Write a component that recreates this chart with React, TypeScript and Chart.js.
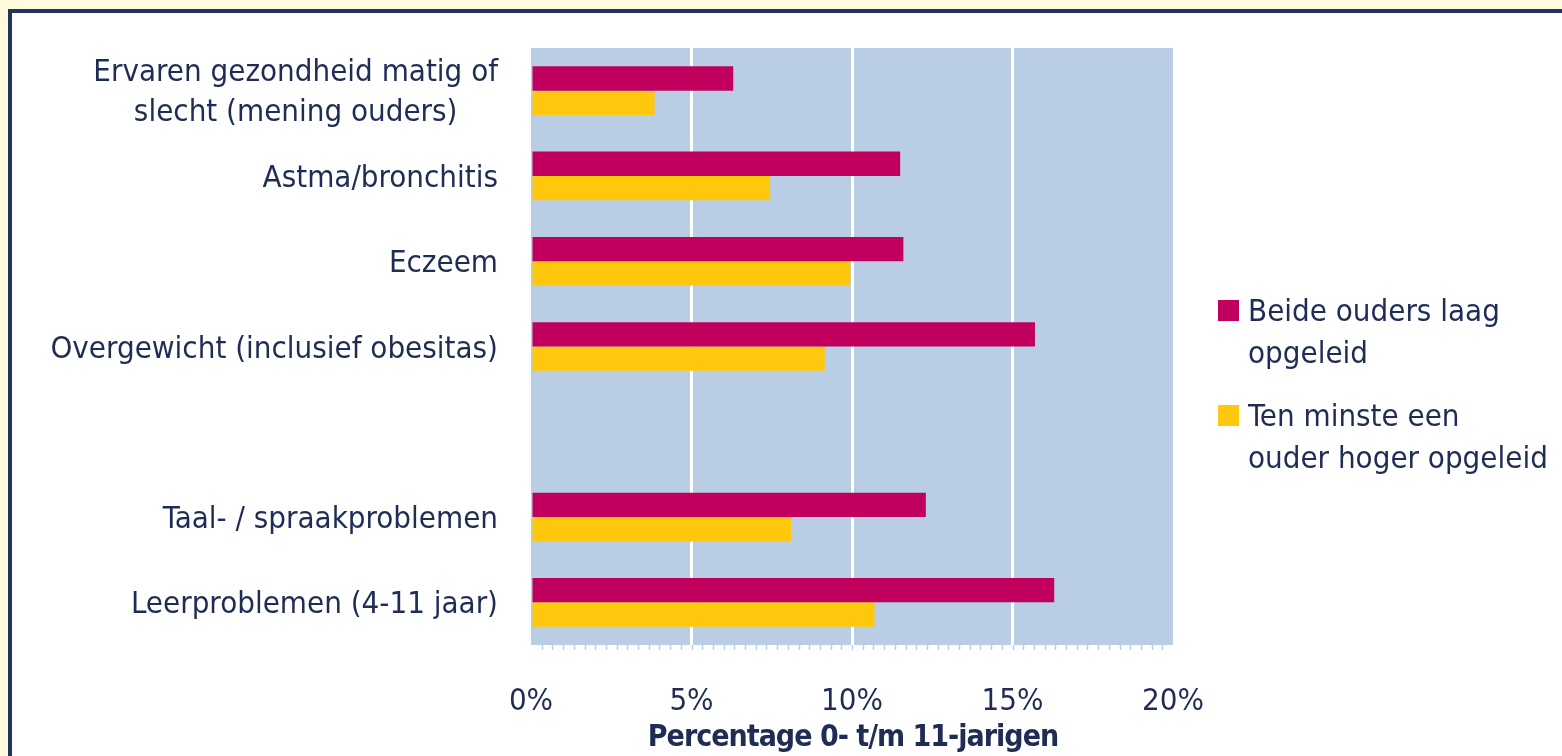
import React, { useEffect, useRef } from "react";
import { Chart, registerables } from "chart.js";

Chart.register(...registerables);

const categories: string[][] = [
  ["Ervaren gezondheid matig of", "slecht (mening ouders)"],
  ["Astma/bronchitis"],
  ["Eczeem"],
  ["Overgewicht (inclusief obesitas)"],
  [""],
  ["Taal- / spraakproblemen"],
  ["Leerproblemen (4-11 jaar)"],
];

const seriesNames: string[][] = [
  ["Beide ouders laag", "opgeleid"],
  ["Ten minste een", "ouder hoger opgeleid"],
];

const laagOpgeleid: (number | null)[] = [6.3, 11.5, 11.6, 15.7, null, 12.3, 16.3];
const hogerOpgeleid: (number | null)[] = [3.85, 7.45, 9.95, 9.15, null, 8.1, 10.7];

const xTicks: number[] = [0, 5, 10, 15, 20];
const xTitle = "Percentage 0- t/m 11-jarigen";

const TEXT = "#1F2D55";
const MAGENTA = "#C0005C";
const YELLOW = "#FFC80C";
const PLOT_BG = "#B9CDE5";
const FONT_FAMILY = '"DejaVu Sans Condensed", "DejaVu Sans", sans-serif';
const FONT_SIZE = 31;

const decorPlugin = {
  id: "decor",
  beforeDraw(chart: any) {
    const { ctx, chartArea } = chart;
    ctx.save();
    ctx.fillStyle = PLOT_BG;
    ctx.fillRect(chartArea.left, chartArea.top, chartArea.right - chartArea.left, chartArea.bottom - chartArea.top);
    // minor ticks
    const xs = chart.scales.x;
    ctx.strokeStyle = PLOT_BG;
    ctx.lineWidth = 1.5;
    for (let k = 1; k < 60; k++) {
      const px = Math.round(xs.getPixelForValue(k / 3)) + 0.5;
      ctx.beginPath();
      ctx.moveTo(px, chartArea.bottom);
      ctx.lineTo(px, chartArea.bottom + 5);
      ctx.stroke();
    }
    ctx.restore();
  },
  afterDraw(chart: any) {
    const { ctx, chartArea } = chart;
    const ys = chart.scales.y;
    ctx.save();
    ctx.fillStyle = TEXT;
    ctx.font = `${FONT_SIZE}px ${FONT_FAMILY}`;
    ctx.textBaseline = "middle";
    const lineH = 40;
    const rightX = chartArea.left - 33;
    categories.forEach((lines, i) => {
      const cy = ys.getPixelForValue(i) + 3;
      if (lines.length > 1) {
        const widths = lines.map((l) => ctx.measureText(l).width);
        const maxW = Math.max(...widths);
        const center = rightX - maxW / 2;
        ctx.textAlign = "center";
        lines.forEach((l, j) => {
          ctx.fillText(l, center, cy - 1 + (j - (lines.length - 1) / 2) * lineH);
        });
      } else {
        ctx.textAlign = "right";
        ctx.fillText(lines[0], rightX, cy);
      }
    });
    // legend
    const colors = [MAGENTA, YELLOW];
    const starts = [313, 418];
    ctx.textAlign = "left";
    seriesNames.forEach((lines, i) => {
      const y0 = starts[i];
      ctx.fillStyle = colors[i];
      ctx.fillRect(1218, y0 - 13, 21, 21);
      ctx.fillStyle = TEXT;
      lines.forEach((l, j) => {
        ctx.fillText(l, 1248, y0 + j * 42);
      });
    });
    // axis title
    ctx.font = `bold 30px ${FONT_FAMILY}`;
    try {
      (ctx as any).letterSpacing = "-1px";
    } catch (e) {}
    ctx.textAlign = "center";
    ctx.fillText(xTitle, (chartArea.left + chartArea.right) / 2 + 1, 738);
    ctx.restore();
  },
};

export default function App() {
  const canvasRef = useRef<HTMLCanvasElement | null>(null);

  useEffect(() => {
    if (!canvasRef.current) return;
    const chart = new Chart(canvasRef.current, {
      type: "bar",
      data: {
        labels: categories.map((c) => c.join(" ")),
        datasets: [
          {
            label: seriesNames[0].join(" "),
            data: laagOpgeleid,
            backgroundColor: MAGENTA,
            categoryPercentage: 0.57,
            barPercentage: 1,
          },
          {
            label: seriesNames[1].join(" "),
            data: hogerOpgeleid,
            backgroundColor: YELLOW,
            categoryPercentage: 0.57,
            barPercentage: 1,
          },
        ],
      },
      options: {
        indexAxis: "y",
        animation: false,
        responsive: false,
        layout: { padding: { left: 531, right: 389, top: 48, bottom: -2 } },
        plugins: {
          legend: { display: false },
          tooltip: { enabled: false },
        },
        scales: {
          x: {
            min: 0,
            max: 20,
            afterBuildTicks: (axis: any) => {
              axis.ticks = xTicks.map((v) => ({ value: v }));
            },
            grid: {
              color: (ctx: any) => (ctx.tick && (ctx.tick.value === 0 || ctx.tick.value === 20) ? "rgba(0,0,0,0)" : "#FFFFFF"),
              lineWidth: 3,
              drawTicks: false,
            },
            border: { display: false },
            ticks: {
              padding: 41,
              color: TEXT,
              font: { family: FONT_FAMILY, size: FONT_SIZE, lineHeight: 1 },
              callback: (v: any) => `${v}%`,
              maxRotation: 0,
            },
          },
          y: {
            grid: { display: false, drawTicks: false },
            border: { display: false },
            ticks: { display: false },
          },
        },
      },
      plugins: [decorPlugin],
    });
    return () => chart.destroy();
  }, []);

  return (
    <div style={{ position: "fixed", left: 0, top: 0, width: 1562, height: 756, background: "#FFFBDC", overflow: "hidden" }}>
      <div
        style={{
          position: "absolute",
          left: 8,
          top: 9,
          width: 1600,
          height: 800,
          border: "4px solid #1F3460",
          background: "#FFFFFF",
        }}
      />
      <canvas ref={canvasRef} width={1562} height={756} style={{ position: "absolute", left: 0, top: 0 }} />
    </div>
  );
}
